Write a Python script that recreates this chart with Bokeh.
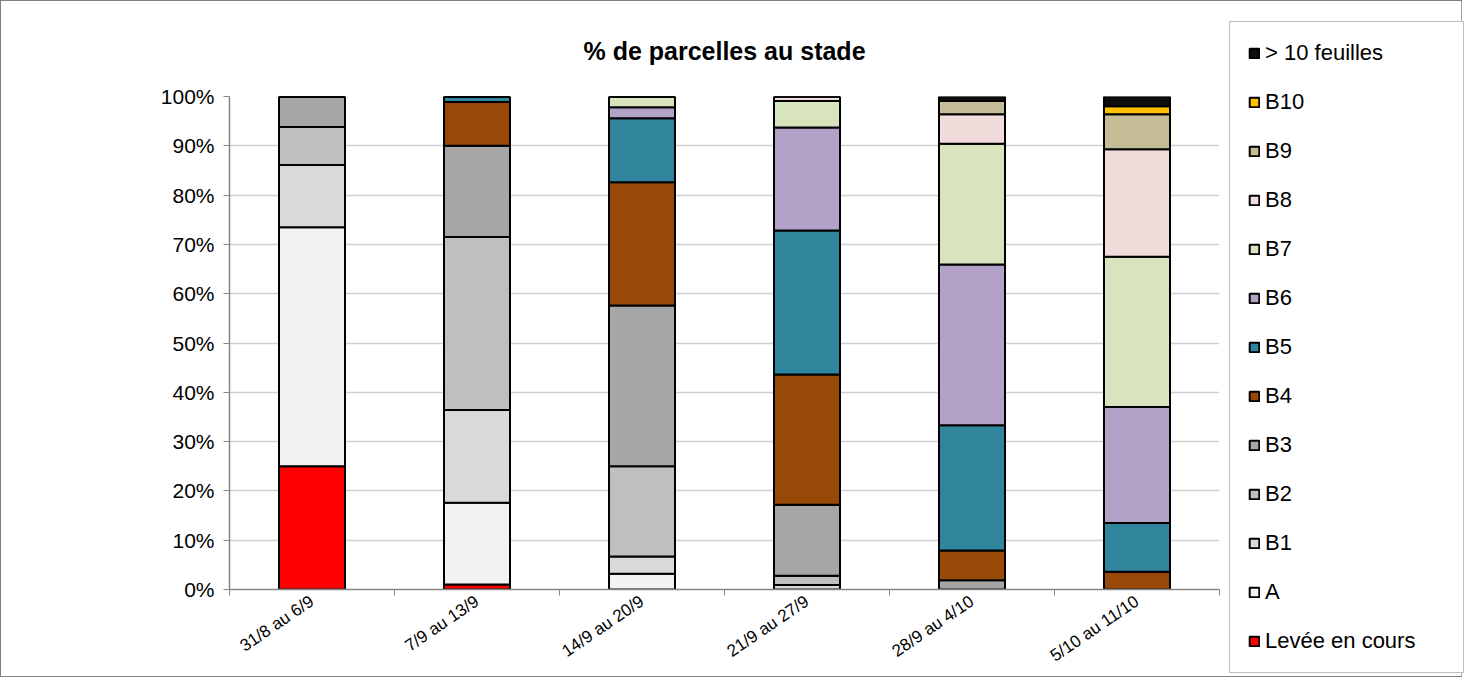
from bokeh.plotting import figure
from bokeh.layouts import row
from bokeh.models import (Range1d, FixedTicker, PrintfTickFormatter, Legend, LegendItem)
from bokeh.embed import file_html
from bokeh.resources import INLINE

weeks = ["31/8 au 6/9", "7/9 au 13/9", "14/9 au 20/9", "21/9 au 27/9", "28/9 au 4/10", "5/10 au 11/10"]
stages = ["Levée en cours", "A", "B1", "B2", "B3", "B4", "B5", "B6", "B7", "B8", "B9", "B10", "> 10 feuilles"]
colors = ["#FF0000", "#F2F2F2", "#D9D9D9", "#BFBFBF", "#A6A6A6", "#984807", "#31859C",
          "#B3A2C7", "#D7E4BD", "#F2DCDB", "#C4BD97", "#FFC000", "#0D0D0D"]

levee = [25.0, 1.0, 0.0, 0.0, 0.0, 0.0]
a = [48.5, 16.6, 3.2, 0.0, 0.0, 0.0]
b1 = [12.6, 18.8, 3.5, 0.9, 0.0, 0.0]
b2 = [7.7, 35.1, 18.3, 1.9, 0.0, 0.0]
b3 = [6.2, 18.5, 32.6, 14.4, 1.9, 0.0]
b4 = [0.0, 8.9, 25.0, 26.4, 6.0, 3.6]
b5 = [0.0, 1.1, 13.0, 29.2, 25.4, 9.9]
b6 = [0.0, 0.0, 2.2, 20.9, 32.6, 23.5]
b7 = [0.0, 0.0, 2.2, 5.4, 24.5, 30.5]
b8 = [0.0, 0.0, 0.0, 0.9, 6.0, 21.8]
b9 = [0.0, 0.0, 0.0, 0.0, 2.7, 7.1]
b10 = [0.0, 0.0, 0.0, 0.0, 0.0, 1.6]
g10 = [0.0, 0.0, 0.0, 0.0, 0.9, 2.0]

series = [levee, a, b1, b2, b3, b4, b5, b6, b7, b8, b9, b10, g10]
keys = ["s%d" % i for i in range(len(stages))]

xpos = list(range(1, len(weeks) + 1))
data = {"x": xpos}
for k, s in zip(keys, series):
    data[k] = s

FONT = "Liberation Sans"
H = 675

p = figure(width=1225, height=H, output_backend="svg", toolbar_location=None,
           x_range=Range1d(0.5, len(weeks) + 0.5), y_range=Range1d(0, 100),
           min_border_left=228, min_border_right=7, min_border_top=95, min_border_bottom=85)
p.outline_line_color = None

rs = p.vbar_stack(keys, x="x", width=0.4, source=data, color=colors,
                  line_color="black", line_width=2)

p.title.text = "% de parcelles au stade"
p.title.align = "center"
p.title.text_font = FONT
p.title.text_font_size = "25px"
p.title.text_font_style = "bold"
p.title.text_color = "black"
p.title.standoff = 64

# axes
p.xaxis.ticker = FixedTicker(ticks=xpos, minor_ticks=[x - 0.5 for x in xpos] + [len(weeks) + 0.5])
p.xaxis.major_label_overrides = {x: w for x, w in zip(xpos, weeks)}
p.xaxis.major_tick_line_color = None
p.xaxis.minor_tick_out = 6
p.xaxis.minor_tick_in = 0
p.xaxis.minor_tick_line_color = "#868686"
p.xaxis.axis_line_color = "#868686"
p.xaxis.axis_line_width = 1.5
p.xaxis.major_label_orientation = 0.6
p.xaxis.major_label_text_font = FONT
p.xaxis.major_label_text_font_size = "17px"
p.xaxis.major_label_text_color = "black"
p.xaxis.major_label_standoff = 4

p.yaxis.ticker = FixedTicker(ticks=list(range(0, 101, 10)))
p.yaxis.formatter = PrintfTickFormatter(format="%d%%")
p.yaxis.axis_line_color = "#868686"
p.yaxis.axis_line_width = 1.5
p.yaxis.major_tick_line_color = "#868686"
p.yaxis.major_tick_out = 6
p.yaxis.major_tick_in = 0
p.yaxis.minor_tick_line_color = None
p.yaxis.major_label_text_font = FONT
p.yaxis.major_label_text_font_size = "21px"
p.yaxis.major_label_text_color = "black"
p.yaxis.major_label_standoff = 9

p.xgrid.grid_line_color = None
p.ygrid.grid_line_color = "#D0D0D0"
p.ygrid.grid_line_width = 1.5

# legend panel (separate figure, same colours; its marks lie outside its ranges)
pl = figure(width=235, height=H, output_backend="svg", toolbar_location=None,
            x_range=Range1d(0, 1), y_range=Range1d(0, 1),
            min_border=0, min_border_left=0, min_border_right=0,
            min_border_top=95, min_border_bottom=85)
pl.axis.visible = False
pl.grid.visible = False
pl.outline_line_color = None
lrs = [pl.vbar(x=[10], top=[1], width=0.4, fill_color=c, line_color="black", line_width=2)
       for c in colors]

items = [LegendItem(label=s, renderers=[r]) for s, r in zip(stages, lrs)][::-1]
legend = Legend(items=items, location=(3, -84), orientation="vertical",
                glyph_width=12, glyph_height=12, label_standoff=5,
                label_text_font=FONT, label_text_font_size="22px", label_text_color="black",
                label_height=26, spacing=23, padding=18, label_width=180, margin=0,
                border_line_color="#808080", border_line_width=1,
                background_fill_color="white", background_fill_alpha=1)
pl.add_layout(legend, "left")

layout = row(p, pl, spacing=0)
layout.styles = {"border": "1px solid #808080"}

open("out.html", "w").write(file_html(layout, INLINE))
